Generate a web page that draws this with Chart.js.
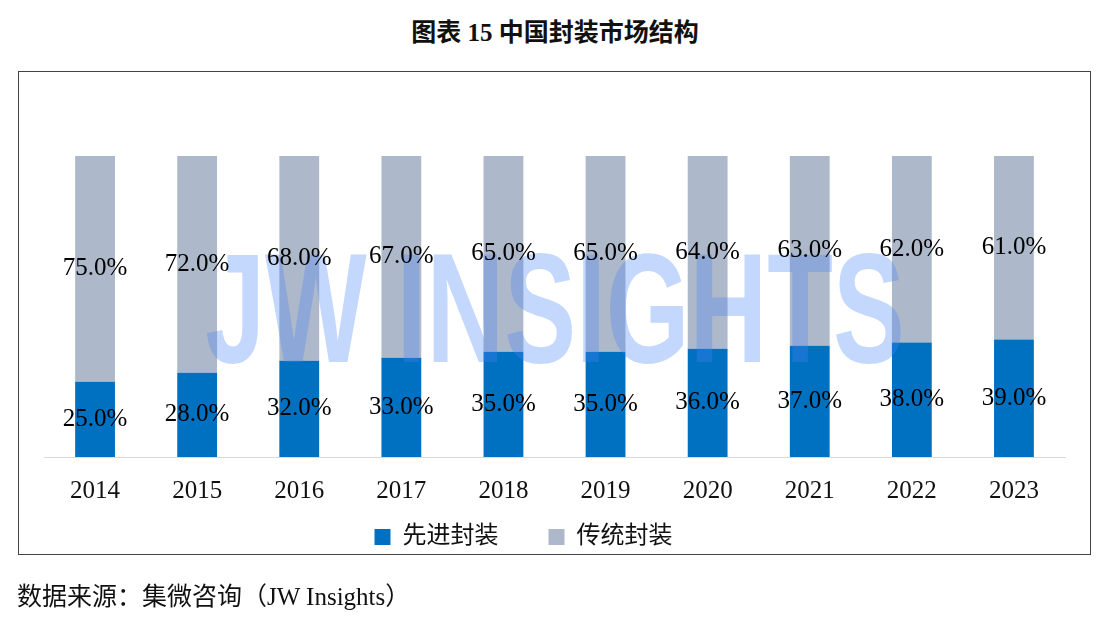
<!DOCTYPE html>
<html>
<head>
<meta charset="utf-8">
<script src="https://cdn.jsdelivr.net/npm/chart.js@4.4.0/dist/chart.umd.min.js"></script>
<style>
    body { margin: 0; background: #fff; }
    #page { position: relative; width: 1110px; height: 618px; overflow: hidden; }
    #title {
        position: absolute; left: 0; top: 12px; width: 1110px; text-align: center;
        font: bold 25px "Liberation Serif", "Noto Sans CJK SC"; color: #111;
    }
    #box {
        position: absolute; left: 18px; top: 71px; width: 1071px; height: 482px;
        border: 1.5px solid #444;
    }
    #wrap { position: absolute; left: 19px; top: 72px; width: 1071px; height: 519px; }
    #source {
        position: absolute; left: 17px; top: 576px;
        font: 25px "Liberation Serif", "Noto Sans CJK SC"; color: #111;
    }
</style>
</head>
<body>
<div id="page">
    <div id="title">图表 15 中国封装市场结构</div>
    <div id="box"></div>
    <div id="wrap"><canvas id="myChart" width="1071" height="519"></canvas></div>
    <div id="source">数据来源：集微咨询（JW Insights）</div>
</div>
<script>
"use strict"

// DATA
const years = ['2014', '2015', '2016', '2017', '2018', '2019', '2020', '2021', '2022', '2023'];
const advanced = [25, 28, 32, 33, 35, 35, 36, 37, 38, 39];
const traditional = [75, 72, 68, 67, 65, 65, 64, 63, 62, 61];
const seriesNames = ['先进封装', '传统封装'];

const serif = '"Liberation Serif", "Noto Sans CJK SC"';

// watermark + value labels, drawn on top of the bars
const overlay = {
    id: 'overlay',
    afterDatasetsDraw(chart) {
        const ctx = chart.ctx;
        const area = chart.chartArea;

        // JW INSIGHTS watermark
        ctx.save();
        ctx.fillStyle = 'rgba(70, 130, 245, 0.32)';
        ctx.font = 'bold 156px "Liberation Sans"';
        ctx.textAlign = 'center';
        ctx.textBaseline = 'alphabetic';
        ctx.translate(area.left + 511, area.top + 206);
        ctx.scale(0.69, 1);
        ctx.fillText('JW INSIGHTS', 0, 0);
        ctx.restore();

        // value labels centred in each segment
        ctx.save();
        ctx.fillStyle = '#000';
        ctx.font = '25px ' + serif;
        ctx.textAlign = 'center';
        ctx.textBaseline = 'middle';
        chart.data.datasets.forEach((ds, i) => {
            chart.getDatasetMeta(i).data.forEach((bar, j) => {
                let mid = (bar.y + bar.base) / 2;
                ctx.fillText(ds.data[j].toFixed(1) + '%', bar.x, mid);
            });
        });
        ctx.restore();
    },
    afterLayout(chart) {
        // legend sits a little left of centre and closer to the axis in the original
        const lg = chart.legend;
        lg.left -= 31;
        lg.right -= 31;
        lg.top -= 32;
        lg.bottom -= 32;
    }
};

let data = {
    labels: years,
    datasets: [{
        label: seriesNames[0],
        data: advanced,
        backgroundColor: '#0070C0',
        borderWidth: 0
    }, {
        label: seriesNames[1],
        data: traditional,
        backgroundColor: '#ADB9CA',
        borderWidth: 0
    }]
};

let config = {
    type: 'bar',
    data: data,
    options: {
        responsive: false,
        animation: false,
        events: [],
        datasets: {
            bar: { categoryPercentage: 1, barPercentage: 0.39 }
        },
        layout: { padding: { left: 25, right: 25, top: 84, bottom: 0 } },
        scales: {
            x: {
                stacked: true,
                grid: { display: false },
                border: { display: true, color: '#d9d9d9', width: 1 },
                ticks: { color: '#111', font: { family: serif, size: 25 }, padding: 11 },
                afterFit(scale) { scale.height = 50; }
            },
            y: {
                stacked: true,
                display: false,
                min: 0,
                max: 100
            }
        },
        plugins: {
            tooltip: { enabled: false },
            legend: {
                position: 'bottom',
                labels: {
                    color: '#111',
                    font: { family: serif, size: 24 },
                    boxWidth: 16,
                    boxHeight: 16,
                    padding: 50
                }
            }
        }
    },
    plugins: [overlay]
};

let myChart = new Chart(document.getElementById('myChart'), config);
</script>
</body>
</html>
